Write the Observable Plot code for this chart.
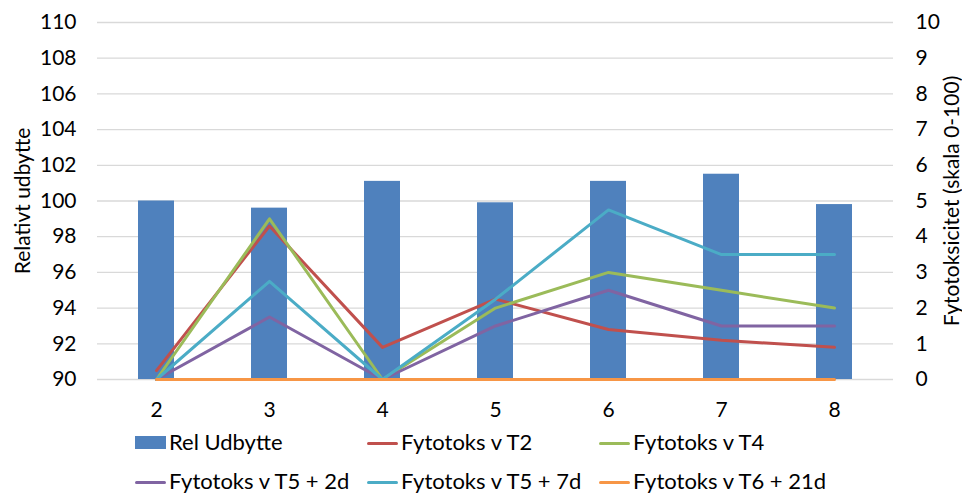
<!DOCTYPE html>
<html>
<head>
<meta charset="utf-8">
<script src="https://cdn.jsdelivr.net/npm/d3@7"></script>
<script src="https://cdn.jsdelivr.net/npm/@observablehq/plot@0.6"></script>
<style>
  html, body { margin: 0; padding: 0; background: #fff; }
  #wrap { position: relative; width: 962px; height: 493px; overflow: hidden; font-family: Lato, "Open Sans", sans-serif; }
  .lg { position: absolute; font-size: 22px; color: #000; white-space: nowrap; line-height: 1; }
  .sw { position: absolute; }
</style>
</head>
<body>
<div id="wrap"><div id="chart"></div><div id="legend"></div></div>
<script>
const categories = ["2", "3", "4", "5", "6", "7", "8"];
const relUdbytte = [100.0, 99.6, 101.1, 99.9, 101.1, 101.5, 99.8];
const fytoT2    = [0.25, 4.3, 0.9, 2.25, 1.4, 1.1, 0.9];
const fytoT4    = [0, 4.5, 0, 2.0, 3.0, 2.5, 2.0];
const fytoT5_2d = [0, 1.75, 0, 1.5, 2.5, 1.5, 1.5];
const fytoT5_7d = [0, 2.75, 0, 2.25, 4.75, 3.5, 3.5];
const fytoT6_21d = [0, 0, 0, 0, 0, 0, 0];
const leftTicks = [90, 92, 94, 96, 98, 100, 102, 104, 106, 108, 110];
const rightTicks = [0, 1, 2, 3, 4, 5, 6, 7, 8, 9, 10];

const barName = "Rel Udbytte";
const series = [
  {name: "Fytotoks v T2", values: fytoT2, color: "#c0504d"},
  {name: "Fytotoks v T4", values: fytoT4, color: "#9bbb59"},
  {name: "Fytotoks v T5 + 2d", values: fytoT5_2d, color: "#8064a2"},
  {name: "Fytotoks v T5 + 7d", values: fytoT5_7d, color: "#4bacc6"},
  {name: "Fytotoks v T6 + 21d", values: fytoT6_21d, color: "#f79646"}
];

// right axis (0-10) mapped onto left scale (90-110)
const toLeft = v => 90 + v * 2;

const bars = categories.map((c, i) => ({cat: c, value: relUdbytte[i]}));
const lineMarks = series.map(s =>
  Plot.lineY(categories.map((c, i) => ({cat: c, v: toLeft(s.values[i])})),
    {x: "cat", y: "v", stroke: s.color, strokeWidth: 3, strokeLinejoin: "round"})
);

const chart = Plot.plot({
  width: 962,
  height: 425,
  marginLeft: 97,
  marginRight: 69,
  marginTop: 22,
  marginBottom: 46,
  style: {fontFamily: "Lato, 'Open Sans', sans-serif", fontSize: "21px", color: "#000", background: "#fff", overflow: "visible"},
  x: {domain: categories, paddingInner: 0.68, paddingOuter: 0.34, label: null},
  y: {domain: [90, 110], label: null},
  marks: [
    Plot.gridY(leftTicks, {stroke: "#d9d9d9", strokeOpacity: 1, strokeWidth: 1.3}),
    Plot.barY(bars, {x: "cat", y1: 90, y2: "value", fill: "#4f81bd"}),
    ...lineMarks,
    Plot.axisX({tickSize: 0, tickPadding: 23, label: null, fontSize: 21}),
    Plot.axisY({anchor: "left", ticks: leftTicks, tickSize: 0, tickPadding: 21, fontSize: 21,
      label: "Relativt udbytte", labelAnchor: "center", labelOffset: 82, labelArrow: "none"}),
    Plot.axisY({anchor: "right", ticks: rightTicks.map(toLeft), tickSize: 0, tickPadding: 22, fontSize: 21,
      tickFormat: d => String((d - 90) / 2),
      label: "Fytotoksicitet (skala 0-100)", labelAnchor: "center", labelOffset: 65, labelArrow: "none"})
  ]
});
document.getElementById("chart").appendChild(chart);

// legend (HTML, below the SVG)
const legend = document.getElementById("legend");
const items = [{name: barName, color: "#4f81bd", type: "bar"}, ...series.map(s => ({name: s.name, color: s.color, type: "line"}))];
const colX = [135, 367, 599];
const rowY = [443, 482];
items.forEach((it, i) => {
  const col = i % 3, row = Math.floor(i / 3);
  const x = colX[col], y = rowY[row];
  const sw = document.createElement("div");
  sw.className = "sw";
  sw.style.left = x + "px";
  sw.style.width = "31px";
  if (it.type === "bar") {
    sw.style.top = (y - 7) + "px";
    sw.style.height = "13px";
  } else {
    sw.style.top = (y - 1.5) + "px";
    sw.style.height = "3px";
    sw.style.borderRadius = "1.5px";
  }
  sw.style.background = it.color;
  legend.appendChild(sw);
  const t = document.createElement("div");
  t.className = "lg";
  t.textContent = it.name;
  t.style.left = (x + 34) + "px";
  t.style.top = (y - 12) + "px";
  legend.appendChild(t);
});
</script>
</body>
</html>
